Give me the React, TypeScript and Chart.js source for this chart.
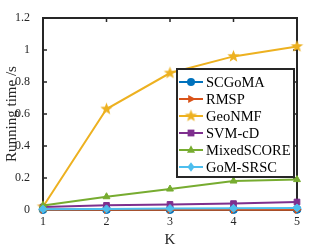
import React, { useEffect, useRef } from 'react';
import { Chart, registerables } from 'chart.js';
Chart.register(...registerables);

const kValues = ['1', '2', '3', '4', '5'];
const seriesNames = ['SCGoMA', 'RMSP', 'GeoNMF', 'SVM-cD', 'MixedSCORE', 'GoM-SRSC'];
const scgoma = [0.003, 0.003, 0.003, 0.003, 0.004];
const rmsp = [0.001, 0.001, 0.001, 0.001, 0.001];
const geonmf = [0.02, 0.631, 0.856, 0.96, 1.022];
const svmcd = [0.018, 0.029, 0.035, 0.04, 0.05];
const mixedscore = [0.028, 0.083, 0.131, 0.181, 0.19];
const gomsrsc = [0.005, 0.007, 0.009, 0.011, 0.013];
const yTickValues = [0, 0.2, 0.4, 0.6, 0.8, 1, 1.2];

const seriesData = [scgoma, rmsp, geonmf, svmcd, mixedscore, gomsrsc];
const colors = ['#0072BD', '#D95319', '#EDB120', '#7E2F8E', '#77AC30', '#4DBEEE'];
const FONT = '"Liberation Serif", "Times New Roman", serif';
const AX = '#262626';

function makeStar(color: string, r: number): HTMLCanvasElement {
  const c = document.createElement('canvas');
  const s = Math.ceil(2 * r + 2);
  c.width = s;
  c.height = s;
  const ctx = c.getContext('2d')!;
  const cx = s / 2, cy = s / 2;
  ctx.beginPath();
  for (let i = 0; i < 10; i++) {
    const rad = i % 2 === 0 ? r : r * 0.42;
    const a = -Math.PI / 2 + (i * Math.PI) / 5;
    const x = cx + rad * Math.cos(a);
    const y = cy + rad * Math.sin(a);
    if (i === 0) ctx.moveTo(x, y);
    else ctx.lineTo(x, y);
  }
  ctx.closePath();
  ctx.fillStyle = color;
  ctx.fill();
  return c;
}

function drawMarker(ctx: CanvasRenderingContext2D, idx: number, x: number, y: number, color: string, star: HTMLCanvasElement) {
  const r = 4;
  ctx.save();
  ctx.fillStyle = color;
  ctx.strokeStyle = color;
  ctx.beginPath();
  if (idx === 0) {
    ctx.arc(x, y, r, 0, Math.PI * 2);
    ctx.fill();
  } else if (idx === 1) {
    ctx.moveTo(x + r * 1.2, y);
    ctx.lineTo(x - r * 0.7, y - r);
    ctx.lineTo(x - r * 0.7, y + r);
    ctx.closePath();
    ctx.fill();
  } else if (idx === 2) {
    ctx.drawImage(star, x - star.width / 2, y - star.height / 2);
  } else if (idx === 3) {
    ctx.rect(x - r * 0.85, y - r * 0.85, r * 1.7, r * 1.7);
    ctx.fill();
  } else if (idx === 4) {
    ctx.moveTo(x, y - r * 1.2);
    ctx.lineTo(x + r, y + r * 0.7);
    ctx.lineTo(x - r, y + r * 0.7);
    ctx.closePath();
    ctx.fill();
  } else {
    ctx.moveTo(x, y - r * 1.2);
    ctx.lineTo(x + r * 0.9, y);
    ctx.lineTo(x, y + r * 1.2);
    ctx.lineTo(x - r * 0.9, y);
    ctx.closePath();
    ctx.fill();
  }
  ctx.restore();
}

export default function App() {
  const ref = useRef<HTMLCanvasElement | null>(null);
  useEffect(() => {
    if (!ref.current) return;
    const star = makeStar(colors[2], 6.5);
    const pointStyles: any[] = ['circle', 'triangle', star, 'rect', 'triangle', 'rectRot'];
    const rotations = [0, 90, 0, 0, 0, 0];

    const framePlugin = {
      id: 'frame',
      beforeDatasetsDraw(chart: any) {
        const { ctx, chartArea } = chart;
        const { left, right, top, bottom } = chartArea;
        const xs = chart.scales.x;
        const ys = chart.scales.y;
        ctx.save();
        ctx.strokeStyle = AX;
        ctx.lineWidth = 2;
        ctx.strokeRect(left, top, right - left, bottom - top);
        ctx.lineWidth = 1.5;
        ctx.beginPath();
        const tl = 4;
        for (let i = 0; i < kValues.length; i++) {
          const px = xs.getPixelForValue(i);
          ctx.moveTo(px, bottom);
          ctx.lineTo(px, bottom - tl);
          ctx.moveTo(px, top);
          ctx.lineTo(px, top + tl);
        }
        for (const v of yTickValues) {
          const py = ys.getPixelForValue(v);
          ctx.moveTo(left, py);
          ctx.lineTo(left + tl, py);
          ctx.moveTo(right, py);
          ctx.lineTo(right - tl, py);
        }
        ctx.stroke();
        ctx.restore();
      },
    };

    const legendPlugin = {
      id: 'customLegend',
      afterDraw(chart: any) {
        const ctx = chart.ctx as CanvasRenderingContext2D;
        const bx = 177, by = 69, bw = 117, bh = 108;
        ctx.save();
        ctx.fillStyle = '#ffffff';
        ctx.fillRect(bx, by, bw, bh);
        ctx.strokeStyle = AX;
        ctx.lineWidth = 2;
        ctx.strokeRect(bx, by, bw, bh);
        ctx.font = `14.5px ${FONT}`;
        ctx.textBaseline = 'middle';
        ctx.textAlign = 'left';
        for (let i = 0; i < seriesNames.length; i++) {
          const y = 82 + i * 17;
          ctx.strokeStyle = colors[i];
          ctx.lineWidth = 2;
          ctx.beginPath();
          ctx.moveTo(179, y);
          ctx.lineTo(203, y);
          ctx.stroke();
          drawMarker(ctx, i, 191, y, colors[i], star);
          ctx.fillStyle = '#000000';
          ctx.fillText(seriesNames[i], 206, y + 1);
        }
        ctx.restore();
      },
    };

    const chart = new Chart(ref.current, {
      type: 'line',
      data: {
        labels: kValues,
        datasets: seriesNames.map((name, i) => ({
          label: name,
          data: seriesData[i],
          borderColor: colors[i],
          backgroundColor: colors[i],
          borderWidth: 2,
          pointStyle: pointStyles[i],
          pointRotation: rotations[i],
          pointRadius: i === 2 ? 6 : 4,
          pointBorderWidth: 1,
          pointBackgroundColor: colors[i],
          pointBorderColor: colors[i],
          tension: 0,
          clip: false as any,
          order: 6 - i,
        })),
      },
      options: {
        animation: false,
        responsive: false,
        maintainAspectRatio: false,
        events: [],
        layout: { padding: { top: 18, right: 32, left: 0, bottom: 0 } },
        plugins: { legend: { display: false }, tooltip: { enabled: false } },
        scales: {
          x: {
            type: 'category',
            offset: false,
            grid: { display: false },
            border: { display: false },
            ticks: { color: AX, font: { family: FONT, size: 12 }, padding: -3, maxRotation: 0 },
            title: { display: true, text: 'K', color: AX, font: { family: FONT, size: 15 }, padding: { top: 0, bottom: -2 } },
            afterFit: (s: any) => { s.height = 37; },
          },
          y: {
            min: 0,
            max: 1.2,
            grid: { display: false },
            border: { display: false },
            afterBuildTicks: (s: any) => { s.ticks = yTickValues.map((v) => ({ value: v })); },
            ticks: {
              color: AX,
              font: { family: FONT, size: 12 },
              padding: 5,
              callback: (v: any) => String(Math.round(Number(v) * 10) / 10),
            },
            title: { display: true, text: 'Running time /s', color: AX, font: { family: FONT, size: 15 }, padding: { top: 3, bottom: 0 } },
            afterFit: (s: any) => { s.width = 43; },
          },
        },
      },
      plugins: [framePlugin, legendPlugin],
    });
    return () => chart.destroy();
  }, []);
  return (
    <div style={{ position: 'absolute', left: 0, top: 0, width: 329, height: 247, background: '#fff' }}>
      <canvas ref={ref} width={329} height={247} style={{ width: 329, height: 247 }} />
    </div>
  );
}
